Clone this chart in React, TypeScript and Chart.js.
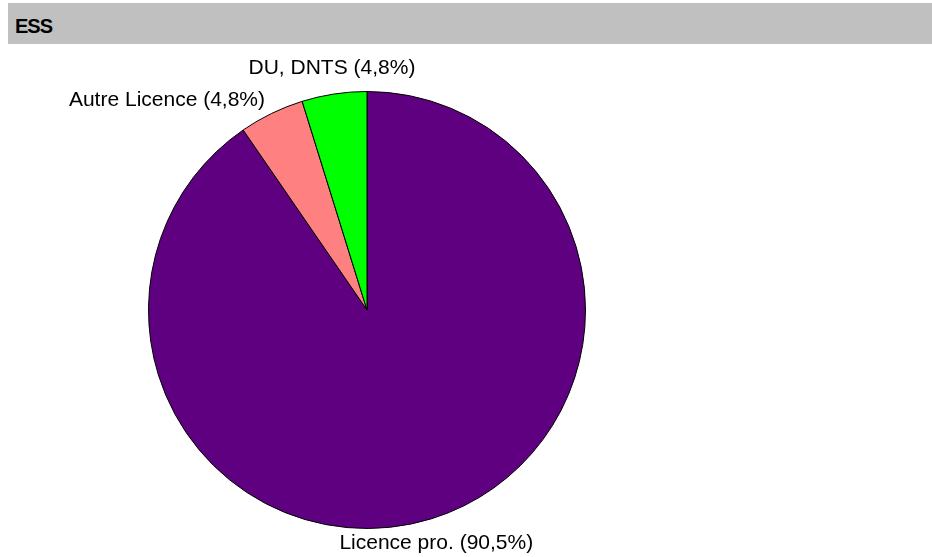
import React, { useEffect, useRef } from "react";
import { Chart, registerables } from "chart.js";

Chart.register(...registerables);

const title = "ESS";
const categories = ["Licence pro.", "Autre Licence", "DU, DNTS"];
const shares = [90.5, 4.8, 4.8];
const sliceColors = ["#5F0080", "#FF8080", "#00FF00"];

const FONT = '"Liberation Sans", Arial, Helvetica, sans-serif';

const outerLabels = {
  id: "outerLabels",
  afterDraw(chart: any) {
    const ctx = chart.ctx;
    const meta = chart.getDatasetMeta(0);
    ctx.save();
    ctx.fillStyle = "#000";
    ctx.font = `21px ${FONT}`;
    meta.data.forEach((arc: any, i: number) => {
      const p = arc.getProps(["x", "y", "startAngle", "endAngle", "outerRadius"], true);
      const mid = (p.startAngle + p.endAngle) / 2;
      const r = p.outerRadius + 15;
      const c = Math.cos(mid);
      const s = Math.sin(mid);
      const px = p.x + c * r;
      const py = p.y + s * r;
      ctx.textAlign = c > 0.35 ? "left" : c < -0.35 ? "right" : "center";
      ctx.textBaseline = s < -0.95 ? "bottom" : s > 0.95 ? "top" : "middle";
      const txt = `${categories[i]} (${shares[i].toFixed(1).replace(".", ",")}%)`;
      ctx.fillText(txt, px, py);
    });
    ctx.restore();
  },
};

export default function App() {
  const ref = useRef<HTMLCanvasElement>(null);
  useEffect(() => {
    if (!ref.current) return;
    const chart = new Chart(ref.current, {
      type: "pie",
      data: {
        labels: categories,
        datasets: [
          {
            data: shares,
            backgroundColor: sliceColors,
            borderColor: "#000",
            borderWidth: 1,
          },
        ],
      },
      options: {
        responsive: false,
        animation: false,
        devicePixelRatio: 1,
        layout: { padding: { left: 148, right: 346, top: 91, bottom: 28 } },
        plugins: {
          legend: { display: false },
          tooltip: { enabled: false },
        },
      },
      plugins: [outerLabels],
    });
    return () => chart.destroy();
  }, []);
  return (
    <div style={{ position: "absolute", left: 0, top: 0, width: 932, height: 557, background: "#fff" }}>
      <canvas ref={ref} width={932} height={557} style={{ position: "absolute", left: 0, top: 0 }} />
      <div
        style={{
          position: "absolute",
          left: 8,
          top: 3,
          width: 924,
          height: 41,
          background: "#C0C0C0",
          fontFamily: FONT,
          fontWeight: "bold",
          fontSize: 20,
          letterSpacing: "-1px",
          lineHeight: "47px",
          paddingLeft: 7,
          boxSizing: "border-box",
          color: "#000",
          overflow: "hidden",
        }}
      >
        {title}
      </div>
    </div>
  );
}
